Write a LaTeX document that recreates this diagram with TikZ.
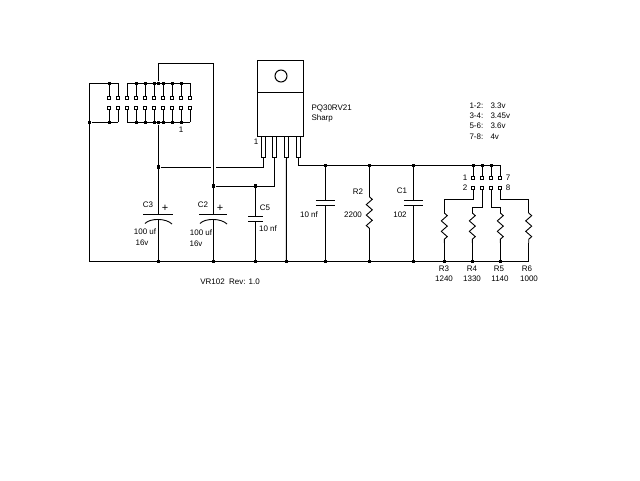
\documentclass[tikz,border=0pt]{standalone}
\usepackage{fontspec}
\setmainfont{Liberation Sans}
\usetikzlibrary{decorations.pathmorphing}
\tikzset{
  wire/.style={line width=1pt},
  plate/.style={line width=1pt},
  dot/.style={rectangle,fill=black,inner sep=0pt,minimum size=3.6pt},
  pin/.style={rectangle,draw,fill=white,line width=0.9pt,inner sep=0pt,minimum size=3.2pt},
  lbl/.style={inner sep=0pt,font=\fontsize{8}{9}\selectfont},
  plus/.style={inner sep=0pt,font=\fontsize{11}{12}\selectfont},
  res/.style={line width=0.9pt,decorate,decoration={zigzag,segment length=10.5pt,amplitude=3pt}}
}
\begin{document}
\begin{tikzpicture}[x=1pt,y=-1pt,wire]
  \useasboundingbox (0,0) rectangle (640,480);
  % header pins
  \foreach \i in {1,...,10} {
    \node[pin] (ha\i) at (100.3+9*\i,98.3) {};
    \node[pin] (hb\i) at (100.3+9*\i,108.3) {};
    \coordinate (ta\i) at (100.3+9*\i,83.3);
    \coordinate (tb\i) at (100.3+9*\i,122.3);
    \draw (ha\i) -- (ta\i);
    \draw (hb\i) -- (tb\i);
  }
  \foreach \i in {1,4,5,6,7,8,9} {
    \node[dot] (da\i) at (ta\i) {};
    \node[dot] (db\i) at (tb\i) {};
  }
  \coordinate (gndl) at (89.3,261.3);
  \coordinate (hl) at (89.3,83.3);
  \node[dot] (hj) at (89.3,122.3) {};
  \draw (gndl) -- (hl) -- (ta2);
  \draw (hj) -- (tb2);
  \draw (ta3) -- (ta10);
  \draw (tb3) -- (tb10);
  % regulator
  \node[draw,rectangle,minimum width=46pt,minimum height=32pt,inner sep=0pt] (tab) at (280,76) {};
  \node[draw,rectangle,minimum width=46pt,minimum height=44pt,inner sep=0pt] (body) at (280,114) {};
  \node[draw,circle,minimum size=12pt,inner sep=0pt] (hole) at (281,76) {};
  \foreach \i/\x in {1/263.5,2/274.5,3/286.5,4/298.5} {
    \node[draw,rectangle,minimum width=4pt,minimum height=21pt,inner sep=0pt] (lead\i) at (\x,146.5) {};
  }
  \node[lbl,anchor=west] (part) at (311,108) {PQ30RV21};
  \node[lbl,anchor=west] (maker) at (311,118) {Sharp};
  \node[lbl] (lead1no) at (256,142) {1};
  \node[lbl] (hdrno) at (181,130) {1};
  % junctions
  \node[dot] (j158a) at (158.3,83.3) {};
  \node[dot] (j158b) at (158.3,122.3) {};
  \node[dot] (j158c) at (158.3,167) {};
  \node[dot] (j213) at (213.3,186) {};
  \node[dot] (j255) at (255.3,186) {};
  \foreach \x in {158.3,213.3,255.3,286.3,325.3,369.3,413.3,444.3,472.3,500.3} {
    \node[dot] (g\x) at (\x,261.3) {};
  }
  \foreach \x in {325.3,369.3,413.3,473.3,482.3,491.3} {
    \node[dot] (v\x) at (\x,165.3) {};
  }
  % C3, C2
  \coordinate (c3top) at (158.3,214.3);
  \coordinate (c3bot) at (158.3,219);
  \coordinate (c2top) at (213.3,214.3);
  \coordinate (c2bot) at (213.3,219);
  \coordinate (fa) at (158.3,63.3);
  \coordinate (fb) at (213.3,63.3);
  \draw (j158b) -- (c3top);
  \draw (c3bot) -- (158.3,261.3);
  \draw (j158a) -- (fa) -- (fb) -- (c2top);
  \draw (c2bot) -- (213.3,261.3);
  \draw[plate] (143,214.3) -- (173,214.3);
  \draw[plate] (199,214.3) -- (227,214.3);
  \draw[line width=0.9pt] (145,223.5) .. controls (150,218) and (166,218) .. (172,224);
  \draw[line width=0.9pt] (200,223.5) .. controls (205,218) and (221,218) .. (227,224);
  % wires to regulator
  \coordinate (gapl) at (210.8,167);
  \coordinate (gapr) at (216,167);
  \coordinate (l1b) at (263.5,167);
  \coordinate (l2b) at (274.5,186);
  \coordinate (l4b) at (298.5,165.3);
  \draw (j158c) -- (gapl);
  \draw (gapr) -- (l1b) -- (lead1.south);
  \draw (j213) -- (l2b) -- (lead2.south);
  \draw (lead3.south) -- (286.3,261.3);
  \draw (lead4.south) -- (l4b) -- (500.3,165.3);
  % C5
  \draw (j255) -- (255.3,216.7);
  \draw (255.3,221.7) -- (255.3,261.3);
  \draw[plate] (248,216.7) -- (262.7,216.7);
  \draw[plate] (248,221.7) -- (262.7,221.7);
  % ground bus
  \draw (gndl) -- (528.7,261.3);
  % 10 nf and C1
  \foreach \x in {325.3,413.3} {
    \draw (\x,165.3) -- (\x,200.7);
    \draw (\x,205.3) -- (\x,261.3);
    \draw[plate] (\x-9.5,200.7) -- (\x+9.5,200.7);
    \draw[plate] (\x-9.5,205.3) -- (\x+9.5,205.3);
  }
  % R2
  \coordinate (r2a) at (369.3,196.7);
  \coordinate (r2b) at (369.3,228.3);
  \draw (369.3,165.3) -- (r2a);
  \draw[res] (r2a) -- (r2b);
  \draw (r2b) -- (369.3,261.3);
  % selector pins
  \foreach \i/\x in {1/473.3,2/482.3,3/491.3,4/500.3} {
    \node[pin] (sa\i) at (\x,178.3) {};
    \node[pin] (sb\i) at (\x,188.3) {};
    \draw (\x,165.3) -- (sa\i);
  }
  % R3..R6
  \foreach \i/\x/\y in {1/444.3/199.3,2/472.3/207.3,3/500.3/207.3,4/528.7/199.3} {
    \coordinate (ra\i) at (\x,213);
    \coordinate (rb\i) at (\x,243);
    \coordinate (rc\i) at (\x,\y);
    \draw (sb\i) |- (rc\i) -- (ra\i);
    \draw[res] (ra\i) -- (rb\i);
    \draw (rb\i) -- (\x,261.3);
  }
  % labels
  \node[lbl] (c3n) at (148,205) {C3};
  \node[plus] (c3p) at (165,208) {+};
  \node[lbl] (c3v) at (145,232) {100 uf};
  \node[lbl] (c3w) at (142,243) {16v};
  \node[lbl] (c2n) at (203,205) {C2};
  \node[plus] (c2p) at (220,208) {+};
  \node[lbl] (c2v) at (201,233) {100 uf};
  \node[lbl] (c2w) at (196,244) {16v};
  \node[lbl] (c5n) at (265,208) {C5};
  \node[lbl] (c5v) at (268,229) {10 nf};
  \node[lbl] (title) at (230,282) {VR102\ \ Rev: 1.0};
  \node[lbl] (c4v) at (309,215) {10 nf};
  \node[lbl] (r2n) at (358,192) {R2};
  \node[lbl] (r2v) at (353,215) {2200};
  \node[lbl] (c1n) at (402,191) {C1};
  \node[lbl] (c1v) at (400,215) {102};
  \foreach \a/\b/\y in {1-2:/3.3v/106,3-4:/3.45v/116,5-6:/3.6v/126,7-8:/4v/137} {
    \node[lbl,anchor=west] at (469,\y) {\a};
    \node[lbl,anchor=west] at (490,\y) {\b};
  }
  \node[lbl] (s1) at (465,178) {1};
  \node[lbl] (s2) at (465,188) {2};
  \node[lbl] (s7) at (508,178) {7};
  \node[lbl] (s8) at (508,188) {8};
  \foreach \n/\v/\x/\w in {R3/1240/444/444,R4/1330/472/472,R5/1140/499/500,R6/1000/527/529} {
    \node[lbl] at (\x,269) {\n};
    \node[lbl] at (\w,279) {\v};
  }
\end{tikzpicture}
\end{document}
